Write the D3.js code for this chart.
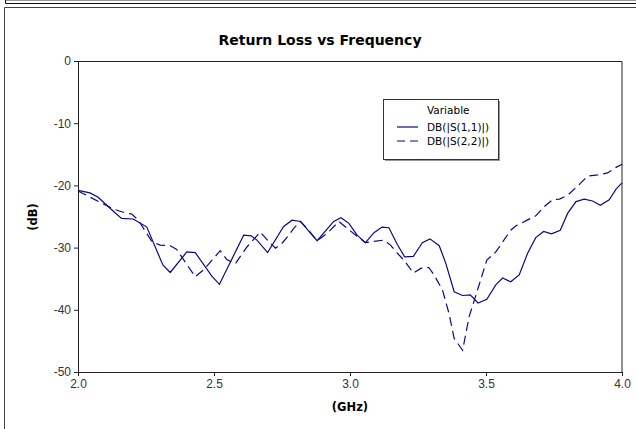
<!DOCTYPE html>
<html>
<head>
<meta charset="utf-8">
<script src="https://cdn.jsdelivr.net/npm/d3@7"></script>
<style>
  body { margin: 0; background: #fff; }
  svg { display: block; font-family: "DejaVu Sans", Verdana, sans-serif; }
  .axis text { font-size: 12px; fill: #333; }
  .axis path, .axis line { stroke: #222; }
</style>
</head>
<body>
<div id="chart"></div>
<script>
// frequency (GHz) and return loss (dB)
const freq11 = [2.000, 2.044, 2.074, 2.136, 2.160, 2.203, 2.253, 2.312, 2.339, 2.400,
    2.431, 2.492, 2.520, 2.609, 2.637, 2.658, 2.697, 2.756, 2.787, 2.818,
    2.879, 2.940, 2.967, 2.996, 3.026, 3.057, 3.088, 3.118, 3.143, 3.174,
    3.201, 3.233, 3.266, 3.294, 3.328, 3.352, 3.383, 3.414, 3.442, 3.471,
    3.503, 3.536, 3.561, 3.591, 3.622, 3.653, 3.683, 3.712, 3.741, 3.773,
    3.800, 3.831, 3.861, 3.892, 3.920, 3.953, 3.978, 4.000];
const s11 = [-20.8, -21.2, -21.9, -24.4, -25.3, -25.4, -26.7, -32.8, -34.0, -30.7,
    -30.8, -34.6, -35.9, -28.0, -28.1, -28.8, -30.8, -26.6, -25.6, -25.8,
    -28.9, -25.8, -25.2, -26.1, -28.0, -29.2, -27.6, -26.7, -26.8, -29.5,
    -31.5, -31.4, -29.2, -28.6, -29.7, -32.5, -37.1, -37.7, -37.6, -38.9,
    -38.3, -36.0, -34.9, -35.5, -34.4, -30.9, -28.4, -27.4, -27.8, -27.2,
    -24.5, -22.6, -22.2, -22.5, -23.2, -22.3, -20.6, -19.6];

const freq22 = [2.000, 2.130, 2.180, 2.198, 2.222, 2.271, 2.302, 2.339, 2.363, 2.431,
    2.461, 2.523, 2.547, 2.578, 2.621, 2.670, 2.701, 2.726, 2.750, 2.775,
    2.793, 2.818, 2.842, 2.879, 2.916, 2.959, 2.990, 3.026, 3.057, 3.088,
    3.124, 3.149, 3.174, 3.198, 3.233, 3.262, 3.290, 3.309, 3.340, 3.364,
    3.383, 3.414, 3.438, 3.469, 3.503, 3.536, 3.591, 3.610, 3.646, 3.683,
    3.714, 3.745, 3.770, 3.800, 3.849, 3.874, 3.911, 3.947, 3.978, 4.000];
const s22 = [-20.9, -23.8, -24.5, -24.6, -25.6, -29.0, -29.6, -29.7, -30.3, -34.7,
    -33.6, -30.5, -31.9, -32.6, -29.9, -27.5, -29.0, -30.1, -29.3, -28.0,
    -26.9, -25.8, -26.9, -28.9, -27.7, -25.8, -26.9, -28.2, -29.2, -29.0,
    -28.8, -29.6, -30.9, -32.0, -34.1, -33.3, -33.2, -34.4, -36.8, -40.6,
    -44.6, -46.5, -41.1, -36.8, -32.0, -30.7, -27.2, -26.5, -25.7, -24.9,
    -23.4, -22.3, -22.2, -21.6, -19.6, -18.5, -18.3, -18.0, -17.1, -16.6];

const seriesNames = ["DB(|S(1,1)|)", "DB(|S(2,2)|)"];
const xTicks = [2.0, 2.5, 3.0, 3.5, 4.0];
const yTicks = [0, -10, -20, -30, -40, -50];

const W = 636, H = 429;
const margin = { top: 61, right: 14, bottom: 57, left: 78 };
const width = W - margin.left - margin.right;
const height = H - margin.top - margin.bottom;
const lineColor = "#0a0a88";

const svg = d3.select("#chart").append("svg")
    .attr("width", W)
    .attr("height", H);

// outer frames
svg.append("line").attr("x1", 5).attr("x2", W).attr("y1", 0.5).attr("y2", 0.5)
    .attr("stroke", "#999");
svg.append("path").attr("d", `M5.5,0V3.5H${W}`)
    .attr("fill", "none").attr("stroke", "#111");
svg.append("path").attr("d", `M4.5,${H}V7.5H${W}`)
    .attr("fill", "none").attr("stroke", "#444");

const x = d3.scaleLinear().domain([2, 4]).range([0, width]);
const y = d3.scaleLinear().domain([-50, 0]).range([height, 0]);

const g = svg.append("g")
    .attr("transform", `translate(${margin.left},${margin.top})`);

g.append("g")
    .attr("class", "axis")
    .attr("transform", `translate(0,${height})`)
    .call(d3.axisBottom(x).tickValues(xTicks).tickFormat(d3.format(".1f"))
        .tickSize(4).tickSizeOuter(0).tickPadding(3));

g.append("g")
    .attr("class", "axis")
    .call(d3.axisLeft(y).tickValues(yTicks).tickFormat(d => String(d))
        .tickSize(4).tickSizeOuter(0).tickPadding(3));

// top and right edges of the plot frame
g.append("path")
    .attr("d", `M0,0.5H${width}V${height}`)
    .attr("fill", "none")
    .attr("stroke", "#222");

const line = d3.line()
    .x(d => x(d[0]))
    .y(d => y(d[1]));

g.append("path")
    .datum(d3.zip(freq11, s11))
    .attr("fill", "none")
    .attr("stroke", lineColor)
    .attr("stroke-width", 1.2)
    .attr("d", line);

g.append("path")
    .datum(d3.zip(freq22, s22))
    .attr("fill", "none")
    .attr("stroke", lineColor)
    .attr("stroke-width", 1.2)
    .attr("stroke-dasharray", "9,5")
    .attr("d", line);

// titles
svg.append("text")
    .attr("x", 320)
    .attr("y", 45)
    .attr("text-anchor", "middle")
    .style("font-size", "14px")
    .style("font-weight", "bold")
    .text("Return Loss vs Frequency");

svg.append("text")
    .attr("x", margin.left + width / 2)
    .attr("y", 411)
    .attr("text-anchor", "middle")
    .style("font-size", "11.5px")
    .style("font-weight", "bold")
    .text("(GHz)");

svg.append("text")
    .attr("transform", "translate(37,217) rotate(-90)")
    .attr("text-anchor", "middle")
    .style("font-size", "11.5px")
    .style("font-weight", "bold")
    .text("(dB)");

// legend
const legend = svg.append("g").attr("transform", "translate(383,99)");
legend.append("rect")
    .attr("x", 2).attr("y", 2).attr("width", 115).attr("height", 60)
    .attr("fill", "#999");
legend.append("rect")
    .attr("x", 0.5).attr("y", 0.5).attr("width", 115).attr("height", 60)
    .attr("fill", "#fff").attr("stroke", "#333");
legend.append("text")
    .attr("x", 44).attr("y", 15)
    .style("font-size", "10.5px")
    .text("Variable");

seriesNames.forEach((name, i) => {
    const row = legend.append("g").attr("transform", `translate(0,${28 + i * 14})`);
    row.append("line")
        .attr("x1", 14).attr("x2", 35)
        .attr("stroke", lineColor)
        .attr("stroke-width", 1.2)
        .attr("stroke-dasharray", i === 1 ? "8,5" : null);
    row.append("text")
        .attr("x", 44).attr("y", 4)
        .style("font-size", "10.5px")
        .text(name);
});
</script>
</body>
</html>
